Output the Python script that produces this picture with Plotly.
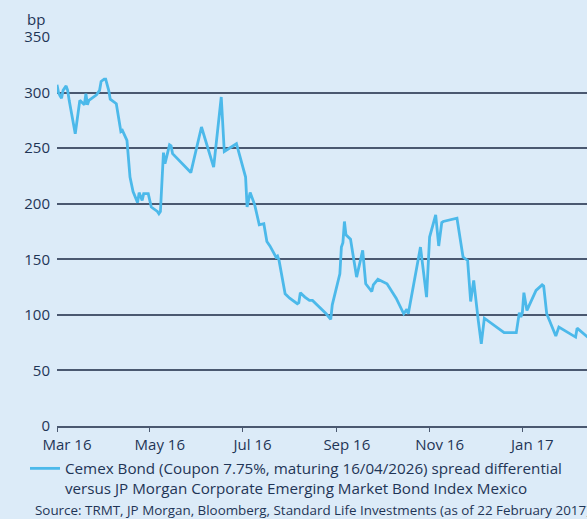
import plotly.graph_objects as go

dates = [
    "2016-03-01", "2016-03-02", "2016-03-03", "2016-03-04", "2016-03-05", "2016-03-07",
    "2016-03-08", "2016-03-09", "2016-03-13", "2016-03-16", "2016-03-19", "2016-03-20",
    "2016-03-21", "2016-03-22", "2016-03-27", "2016-03-29", "2016-03-30", "2016-04-01",
    "2016-04-02", "2016-04-04", "2016-04-05", "2016-04-09", "2016-04-12", "2016-04-13",
    "2016-04-16", "2016-04-18", "2016-04-20", "2016-04-23", "2016-04-24", "2016-04-26",
    "2016-04-27", "2016-04-30", "2016-05-02", "2016-05-06", "2016-05-07", "2016-05-08",
    "2016-05-10", "2016-05-11", "2016-05-14", "2016-05-15", "2016-05-16", "2016-05-28",
    "2016-06-04", "2016-06-07", "2016-06-12", "2016-06-17", "2016-06-19", "2016-06-27",
    "2016-07-03", "2016-07-04", "2016-07-06", "2016-07-09", "2016-07-12", "2016-07-15",
    "2016-07-17", "2016-07-19", "2016-07-23", "2016-07-24", "2016-07-25", "2016-07-29",
    "2016-08-01", "2016-08-06", "2016-08-07", "2016-08-08", "2016-08-11", "2016-08-14",
    "2016-08-16", "2016-08-25", "2016-08-28", "2016-08-29", "2016-09-03", "2016-09-04",
    "2016-09-05", "2016-09-06", "2016-09-07", "2016-09-10", "2016-09-14", "2016-09-18",
    "2016-09-20", "2016-09-24", "2016-09-25", "2016-09-28", "2016-10-04", "2016-10-10",
    "2016-10-15", "2016-10-17", "2016-10-18", "2016-10-26", "2016-10-30", "2016-11-01",
    "2016-11-05", "2016-11-07", "2016-11-09", "2016-11-10", "2016-11-19", "2016-11-23",
    "2016-11-26", "2016-11-28", "2016-11-30", "2016-12-03", "2016-12-05", "2016-12-07",
    "2016-12-20", "2016-12-28", "2016-12-30", "2016-12-31", "2017-01-01", "2017-01-02",
    "2017-01-04", "2017-01-10", "2017-01-14", "2017-01-15", "2017-01-17", "2017-01-23",
    "2017-01-25", "2017-02-05", "2017-02-06", "2017-02-13",
]
spread = [
    307, 300, 297, 295, 302, 306,
    302, 293, 263, 293, 289, 299,
    289, 293, 298, 302, 310, 312,
    312, 302, 294, 290, 265, 266,
    257, 224, 211, 201, 210, 203,
    209, 209, 197, 193, 191, 193,
    246, 236, 253, 252, 245, 228,
    269, 256, 233, 296, 247, 254,
    224, 197, 210, 199, 181, 182,
    166, 162, 152, 153, 149, 119,
    115, 110, 111, 120, 116, 113,
    113, 101, 96, 109, 137, 161,
    165, 184, 172, 168, 134, 158,
    128, 121, 127, 132, 128, 115,
    101, 105, 101, 161, 116, 170,
    190, 162, 183, 184, 187, 152,
    149, 112, 131, 95, 74, 97,
    84, 84, 102, 98, 102, 120,
    104, 122, 127, 126, 101, 81,
    89, 80, 88, 80,
]

tick_vals = ["2016-03-01", "2016-05-01", "2016-07-01", "2016-09-01", "2016-11-01", "2017-01-01"]
tick_text = ["Mar 16", "May 16", "Jul 16", "Sep 16", "Nov 16", "Jan 17"]
y_ticks = [0, 50, 100, 150, 200, 250, 300, 350]

series_name = ("Cemex Bond (Coupon 7.75%, maturing 16/04/2026) spread differential"
               "<br>versus JP Morgan Corporate Emerging Market Bond Index Mexico")
source_text = "Source: TRMT, JP Morgan, Bloomberg, Standard Life Investments (as of 22 February 2017)"

BG = "#dcebf8"
TXT = "#1f3556"
GRID = "#4a5870"
LINE = "#4cb9ea"
FONT = "Open Sans"

fig = go.Figure()
fig.add_trace(go.Scatter(
    x=dates, y=spread, mode="lines", name=series_name,
    line=dict(color=LINE, width=2.8),
))

fig.update_layout(
    width=587, height=519,
    margin=dict(l=57, r=0, t=37, b=93, autoexpand=False),
    paper_bgcolor=BG, plot_bgcolor=BG,
    font=dict(family=FONT, size=15, color=TXT),
    showlegend=True,
    legend=dict(
        x=-0.0604, y=-0.0668, xanchor="left", yanchor="top",
        orientation="h", valign="top",
        font=dict(family=FONT, size=15.2, color=TXT),
        bgcolor="rgba(0,0,0,0)", itemwidth=30, tracegroupgap=0,
    ),
    xaxis=dict(
        type="date", range=["2016-03-01", "2017-02-12 12:00"],
        tickvals=tick_vals, ticktext=tick_text,
        ticks="outside", ticklen=4, tickwidth=1.2, tickcolor=GRID,
        showline=True, linecolor=GRID, linewidth=1.5,
        showgrid=False, zeroline=False, automargin=False,
        ticklabelshift=10, tickfont=dict(size=15),
    ),
    yaxis=dict(
        range=[0, 350], tickvals=y_ticks,
        showgrid=True, gridcolor=GRID, gridwidth=1.5,
        zeroline=False, showline=False, ticks="", automargin=False,
        ticklabelstandoff=6, tickfont=dict(size=15),
    ),
    annotations=[
        dict(text="bp", xref="paper", yref="paper", x=-0.0396, y=1.046,
             xanchor="center", yanchor="middle", showarrow=False,
             font=dict(family=FONT, size=15, color=TXT)),
        dict(text=source_text, xref="paper", yref="paper", x=-0.0453, y=-0.216,
             xanchor="left", yanchor="middle", showarrow=False,
             font=dict(family=FONT, size=13.4, color=TXT)),
    ],
)

fig.write_html(
    "out.html",
    config={"displayModeBar": False},
    post_script="document.documentElement.style.overflow='hidden';"
                "document.body.style.overflow='hidden';"
                "document.body.style.margin='0';"
                "document.body.style.background='" + BG + "';",
)
